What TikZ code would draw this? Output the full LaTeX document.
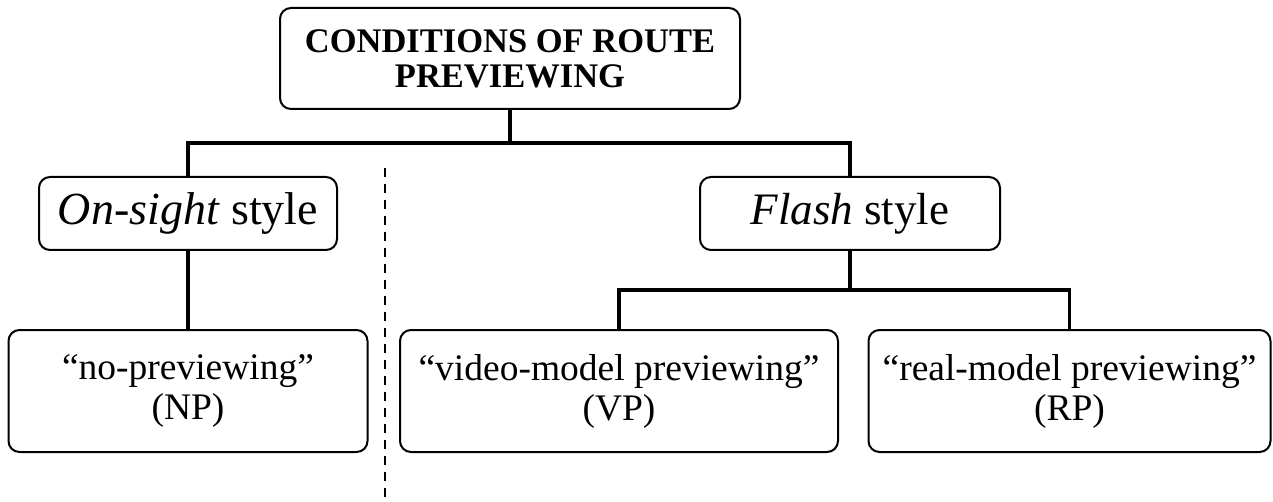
\documentclass[tikz,border=0pt]{standalone}
\usepackage{fontspec}
\setmainfont{Liberation Serif}
\begin{document}
\begin{tikzpicture}[x=1pt,y=-1pt,
  box/.style={draw=black, line width=2pt, rounded corners=11pt, fill=white, align=center, inner sep=0pt},
  conn/.style={draw=black, line width=3.2pt},
  sep/.style={draw=black, line width=2pt, dash pattern=on 9pt off 7pt}]
\useasboundingbox (0,0) rectangle (1273,502);
\node[box, minimum width=460pt, minimum height=101pt, font=\bfseries\fontsize{34.5}{35}\selectfont] (top) at (510,58.5) {CONDITIONS OF ROUTE\\PREVIEWING};
\node[box, minimum width=298pt, minimum height=73pt, font=\fontsize{46}{48}\selectfont] (onsight) at (188,213.5) {\textit{On-sight} style};
\node[box, minimum width=300pt, minimum height=73pt, font=\fontsize{45}{48}\selectfont] (flash) at (850,213.5) {\textit{Flash} style};
\node[box, minimum width=359pt, minimum height=122pt, font=\fontsize{37.5}{40}\selectfont] (np) at (188,391) {“no-previewing”\\(NP)};
\node[box, minimum width=438pt, minimum height=122pt, font=\fontsize{37.5}{40}\selectfont] (vp) at (619,391) {“video-model previewing”\\(VP)};
\node[box, minimum width=402pt, minimum height=122pt, font=\fontsize{37.5}{40}\selectfont] (rp) at (1069.5,391) {“real-model previewing”\\(RP)};
\coordinate (bar) at (510,143);
\coordinate (fb) at (850,290);
\coordinate (ds) at (385,168);
\coordinate (de) at (385,502);
\draw[conn] (top.south) -- (bar);
\draw[conn] (onsight.north) |- (bar) -| (flash.north);
\draw[conn] (onsight.south) -- (np.north);
\draw[conn] (flash.south) -- (fb);
\draw[conn] (vp.north) |- (fb) -| (rp.north);
\draw[sep] (ds) -- (de);
\end{tikzpicture}
\end{document}
